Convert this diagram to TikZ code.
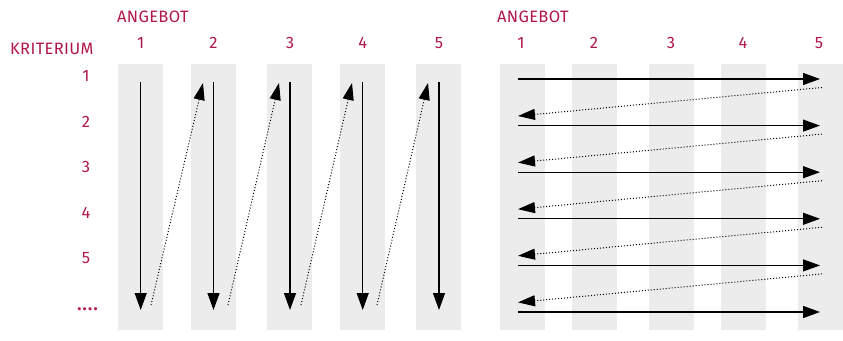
\documentclass[tikz,border=0pt]{standalone}
\usepackage{fontspec}
\setmainfont{Fira Sans}[LetterSpace=2]
\usetikzlibrary{arrows.meta}
\definecolor{crim}{HTML}{B0184A}
\definecolor{colgray}{HTML}{EBECEB}
\begin{document}
\begin{tikzpicture}[x=1pt,y=-1pt,
  lbl/.style={text=crim,font=\fontsize{16.5}{16.5}\selectfont,inner sep=0pt,anchor=base},
  band/.style={fill=colgray,draw=none},
  solidarrow/.style={line width=1.2pt,-{Triangle[length=17pt,width=12pt]}},
  dotarrow/.style={line width=1pt,dash pattern=on 1pt off 2pt,-{Triangle[length=17pt,width=11pt]}}]
\useasboundingbox (0,0) rectangle (843,340);
% left bands
\foreach \a/\b in {118/163,191/236,267/312,340/385,416/461}{
  \fill[band] (\a,64) rectangle (\b,330);
}
% right bands
\foreach \a/\b in {500/545,572/617,649/694,721/766,798/843}{
  \fill[band] (\a,64) rectangle (\b,330);
}
% labels
\node[lbl,anchor=base west] (angL) at (117,23) {ANGEBOT};
\node[lbl,anchor=base west] (angR) at (497,23) {ANGEBOT};
\node[lbl,anchor=base west] (krit) at (10,54) {KRITERIUM};
\foreach \x [count=\i] in {140.7,213.5,290,362.7,439}{
  \node[lbl] (nL\i) at (\x,48) {\i};
}
\foreach \x [count=\i] in {521,594,671,743,819}{
  \node[lbl] (nR\i) at (\x,48) {\i};
}
\foreach \y [count=\i] in {81.5,127.5,172.5,218.5,263}{
  \node[lbl] (r\i) at (86,\y) {\i};
}
\node[lbl,font=\fontsize{17}{17}\selectfont\bfseries\addfontfeature{LetterSpace=8}] (rdots) at (87.5,310) {....};
% left vertical arrows
\foreach \x [count=\i] in {140.7,213.5,290,362.7,439}{
  \coordinate (vt\i) at (\x,82);
  \coordinate (vb\i) at (\x,310);
  \draw[solidarrow] (vt\i) -- (vb\i);
}
% left dotted arrows
\foreach \s/\t [count=\i] in {151/203,228/279,301/352,377/428}{
  \coordinate (ds\i) at (\s,305);
  \coordinate (dt\i) at (\t,83);
  \draw[dotarrow] (ds\i) -- (dt\i);
}
% right horizontal arrows
\foreach \y [count=\i] in {79,125.6,172.2,218.8,265.4,312}{
  \coordinate (hl\i) at (518,\y);
  \coordinate (hr\i) at (820,\y);
  \draw[solidarrow] (hl\i) -- (hr\i);
}
\foreach \y [count=\i] in {79,125.6,172.2,218.8,265.4}{
  \coordinate (es\i) at (822,\y+8.5);
  \coordinate (et\i) at (518,\y+37);
  \draw[dotarrow] (es\i) -- (et\i);
}
\end{tikzpicture}
\end{document}
